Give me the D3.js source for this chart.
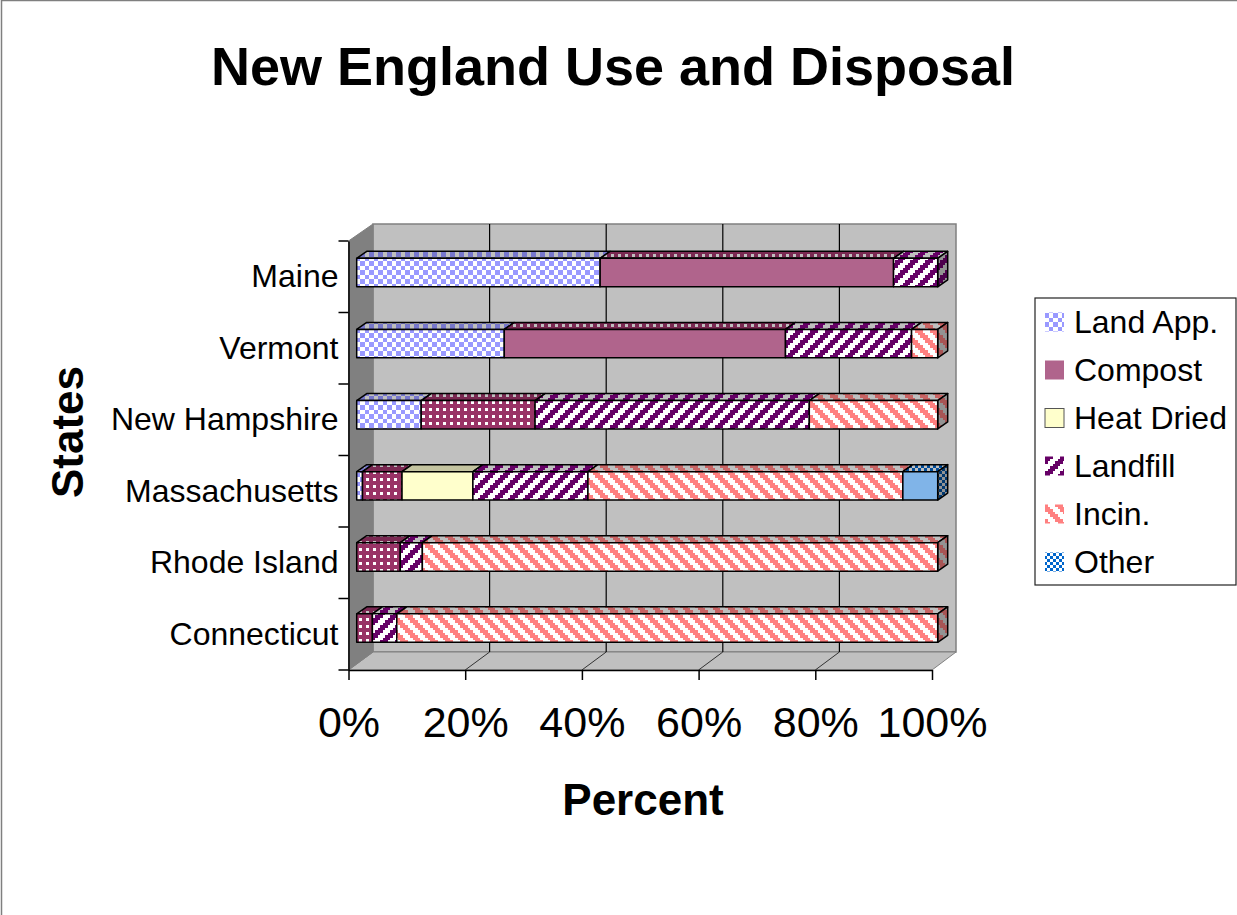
<!DOCTYPE html>
<html>
<head>
<meta charset="utf-8">
<title>New England Use and Disposal</title>
<script src="https://cdn.jsdelivr.net/npm/d3@7"></script>
<style>
html,body{margin:0;padding:0;background:#fff;overflow:hidden}
svg{display:block}
text{font-family:"Liberation Sans",Arial,sans-serif;fill:#000}
</style>
</head>
<body>
<div id="chart"></div>
<script>
// Percent of biosolids handled by each route, per state (top row first).
const states = ["Maine", "Vermont", "New Hampshire", "Massachusetts", "Rhode Island", "Connecticut"];
const seriesNames = ["Land App.", "Compost", "Heat Dried", "Landfill", "Incin.", "Other"];
const landApp   = [41.9, 25.4, 11.1,  1.0, 0,    0];
const compost   = [50.5, 48.4, 19.6,  6.8, 7.5,  2.7];
const heatDried = [0,    0,    0,    12.2, 0,    0];
const landfill  = [7.6,  21.7, 47.2, 19.8, 3.8,  4.2];
const incin     = [0,    4.5,  22.1, 54.2, 88.7, 93.1];
const other     = [0,    0,    0,     6.0, 0,    0];
const xTicks = [0, 20, 40, 60, 80, 100];

const W = 1237, H = 915;

// Fill kinds: front face, top face (darkened on grey), side face (darker still).
const looks = {
  "Land App.":  {kind: "check",  fg: "#9999ff", topFg: "#7777cc", sideFg: "#5c5c99", bg: "#ffffff"},
  "Compost":    {kind: "dots",   fg: "#993366", topFg: "#7a2952", sideFg: "#5c1f3d", bg: "#ffffff", flat: "#b0648c"},
  "Heat Dried": {kind: "flat",   fg: "#ffffcc", topFg: "#c4c4a0", sideFg: "#9c9c80", bg: "#ffffcc"},
  "Landfill":   {kind: "rising", fg: "#660066", topFg: "#660066", sideFg: "#4d004d", bg: "#ffffff"},
  "Incin.":     {kind: "falling",fg: "#ff8080", topFg: "#c86464", sideFg: "#a85555", bg: "#ffffff"},
  "Other":      {kind: "check2", fg: "#0066cc", topFg: "#004c99", sideFg: "#003870", bg: "#ffffff", flat: "#80b4e8"}
};
// Rows whose wide compost and "other" fronts render as an even tint.
const flatFronts = {"Compost": ["Maine", "Vermont"], "Other": ["Massachusetts"]};

const svg = d3.select("#chart").append("svg").attr("width", W).attr("height", H);
const defs = svg.append("defs");

// Bitmap-style tiles, in the manner of an old office chart's fill patterns.
function addTile(id, kind, fg, bg) {
  const spec = {
    check:   {n: 2, s: 4.5, on: (i, j) => (i + j) % 2 === 0},
    check2:  {n: 2, s: 3, on: (i, j) => (i + j) % 2 === 0},
    dots:    {n: 7, s: 1, on: (i, j) => !(i >= 2 && i <= 4 && j >= 2 && j <= 4)},
    rising:  {n: 6, s: 2.5, on: (i, j) => (i + j) % 6 < 3},
    falling: {n: 6, s: 2.5, on: (i, j) => ((i - j + 60) % 6) < 3},
    flat:    {n: 1, s: 8, on: () => true}
  }[kind];
  const size = spec.n * spec.s;
  const p = defs.append("pattern").attr("id", id)
    .attr("patternUnits", "userSpaceOnUse")
    .attr("width", size).attr("height", size);
  p.append("rect").attr("width", size).attr("height", size).attr("fill", bg);
  const cells = d3.cross(d3.range(spec.n), d3.range(spec.n)).filter(([i, j]) => spec.on(i, j));
  p.selectAll("rect.c").data(cells).join("rect").attr("class", "c")
    .attr("x", d => d[0] * spec.s).attr("y", d => d[1] * spec.s)
    .attr("width", spec.s).attr("height", spec.s)
    .attr("fill", fg).attr("shape-rendering", "crispEdges");
}
seriesNames.forEach((name, k) => {
  const l = looks[name];
  addTile("front" + k, l.kind, l.fg, l.bg);
  addTile("top" + k, l.kind, l.topFg, l.kind === "flat" ? l.topFg : "#bfbfbf");
  addTile("side" + k, l.kind, l.sideFg, l.kind === "flat" ? l.sideFg : "#939393");
});

// Scales: the same percent axis on the front edge, the back wall and the bar fronts.
const xFront = d3.scaleLinear().domain([0, 100]).range([348.5, 932]);
const xBack  = d3.scaleLinear().domain([0, 100]).range([373, 956]);
const xBar   = d3.scaleLinear().domain([0, 100]).range([356.7, 937.7]);
const yAxis  = d3.scaleBand().domain(states).range([241, 670]);
const yBar   = d3.scaleBand().domain(states).range([237, 663.6]).paddingInner(0.6).paddingOuter(0.3);
const depthX = 10, depthY = 7;
const wallTop = 224, wallBottom = 652, frontTop = 241, frontBottom = 670;

// Page frame
svg.append("path").attr("d", `M1.5,${H}V0.5H${W}`).attr("fill", "none").attr("stroke", "#7f7f7f").attr("stroke-width", 1.5);

// Back wall, floor and side wall
const room = svg.append("g");
const poly = pts => "M" + pts.map(p => p.join(",")).join("L") + "Z";
room.append("path")
  .attr("d", poly([[xBack(0), wallTop], [xBack(100), wallTop], [xBack(100), wallBottom], [xBack(0), wallBottom]]))
  .attr("fill", "#c0c0c0").attr("stroke", "#808080").attr("stroke-width", 1.5);
room.append("path")
  .attr("d", poly([[xFront(0), frontBottom], [xFront(100), frontBottom], [xBack(100), wallBottom], [xBack(0), wallBottom]]))
  .attr("fill", "#c0c0c0").attr("stroke", "#808080").attr("stroke-width", 1);
room.append("path")
  .attr("d", poly([[xFront(0), frontTop], [xBack(0), wallTop], [xBack(0), wallBottom], [xFront(0), frontBottom]]))
  .attr("fill", "#808080").attr("stroke", "#808080").attr("stroke-width", 1);

// Gridlines up the wall and across the floor
room.selectAll("line.wall").data(xTicks.slice(1, -1)).join("line").attr("class", "wall")
  .attr("x1", d => xBack(d)).attr("x2", d => xBack(d))
  .attr("y1", wallTop).attr("y2", wallBottom)
  .attr("stroke", "#000").attr("stroke-width", 1.2);
room.selectAll("line.floor").data(xTicks.slice(1, -1)).join("line").attr("class", "floor")
  .attr("x1", d => xBack(d)).attr("x2", d => xFront(d))
  .attr("y1", wallBottom).attr("y2", frontBottom)
  .attr("stroke", "#333").attr("stroke-width", 1);

// Stacked bars
const rows = states.map((s, i) => ({
  state: s,
  "Land App.": landApp[i], "Compost": compost[i], "Heat Dried": heatDried[i],
  "Landfill": landfill[i], "Incin.": incin[i], "Other": other[i]
}));
const stacked = d3.stack().keys(seriesNames)(rows);

const segments = [];
stacked.forEach((layer, k) => layer.forEach(d => {
  if (d[1] - d[0] > 0) segments.push({k, name: layer.key, state: d.data.state, x0: d[0], x1: d[1]});
}));

const bars = svg.append("g").attr("stroke", "#000").attr("stroke-width", 1.5).attr("stroke-linejoin", "round");
states.forEach(state => {
  const own = segments.filter(s => s.state === state);
  const top = yBar(state), bot = top + yBar.bandwidth();
  const g = bars.append("g");
  g.selectAll("path.top").data(own).join("path").attr("class", "top")
    .attr("fill", d => `url(#top${d.k})`)
    .attr("d", d => poly([[xBar(d.x0), top], [xBar(d.x1), top],
      [xBar(d.x1) + depthX, top - depthY], [xBar(d.x0) + depthX, top - depthY]]));
  const last = own[own.length - 1];
  g.append("path").datum(last).attr("class", "side")
    .attr("fill", d => `url(#side${d.k})`)
    .attr("d", d => poly([[xBar(d.x1), top], [xBar(d.x1) + depthX, top - depthY],
      [xBar(d.x1) + depthX, bot - depthY], [xBar(d.x1), bot]]));
  g.selectAll("rect.front").data(own).join("rect").attr("class", "front")
    .attr("x", d => xBar(d.x0)).attr("y", top)
    .attr("width", d => xBar(d.x1) - xBar(d.x0)).attr("height", yBar.bandwidth())
    .attr("fill", d => (flatFronts[d.name] || []).includes(state) ? looks[d.name].flat : `url(#front${d.k})`);
});

// Axes
const xAxisG = svg.append("g").attr("transform", `translate(0,${frontBottom})`)
  .call(d3.axisBottom(xFront).tickValues(xTicks).tickFormat(d => d + "%").tickSize(10).tickPadding(26).tickSizeOuter(0));
xAxisG.selectAll("text").attr("font-size", 43).attr("dy", "0.71em");
xAxisG.selectAll("line,path").attr("stroke", "#000").attr("stroke-width", 1.5);

const yAxisG = svg.append("g").attr("transform", `translate(${xFront(0)},0)`)
  .call(d3.axisLeft(yAxis).tickSize(0).tickPadding(10));
yAxisG.selectAll("text").attr("font-size", 32);
yAxisG.selectAll("path").attr("stroke", "#000").attr("stroke-width", 1.5);
svg.append("g").selectAll("line").data(d3.range(states.length + 1)).join("line")
  .attr("x1", xFront(0) - 10).attr("x2", xFront(0))
  .attr("y1", d => d === states.length ? yAxis.range()[1] : yAxis(states[d]))
  .attr("y2", d => d === states.length ? yAxis.range()[1] : yAxis(states[d]))
  .attr("stroke", "#000").attr("stroke-width", 1.5);

// Titles
svg.append("text").attr("x", 613).attr("y", 85).attr("text-anchor", "middle")
  .attr("font-size", 54).attr("font-weight", "bold").text("New England Use and Disposal");
svg.append("text").attr("x", 643).attr("y", 815).attr("text-anchor", "middle")
  .attr("font-size", 44).attr("font-weight", "bold").text("Percent");
svg.append("text").attr("transform", "translate(83,432) rotate(-90)").attr("text-anchor", "middle")
  .attr("font-size", 44).attr("font-weight", "bold").text("States");

// Legend
const legend = svg.append("g");
legend.append("rect").attr("x", 1035).attr("y", 298).attr("width", 201).attr("height", 287)
  .attr("fill", "#fff").attr("stroke", "#222").attr("stroke-width", 1.2);
const legendY = d3.scalePoint().domain(seriesNames).range([322, 562]);
const entry = legend.selectAll("g").data(seriesNames).join("g")
  .attr("transform", d => `translate(0,${legendY(d)})`);
entry.append("rect").attr("x", 1045).attr("y", -9.5).attr("width", 19).attr("height", 19)
  .attr("fill", (d, k) => d === "Compost" ? looks[d].flat : `url(#front${k})`)
  .attr("stroke", d => d === "Heat Dried" ? "#555" : "none");
entry.append("text").attr("x", 1074).attr("dy", "0.35em").attr("font-size", 32).text(d => d);
</script>
</body>
</html>
